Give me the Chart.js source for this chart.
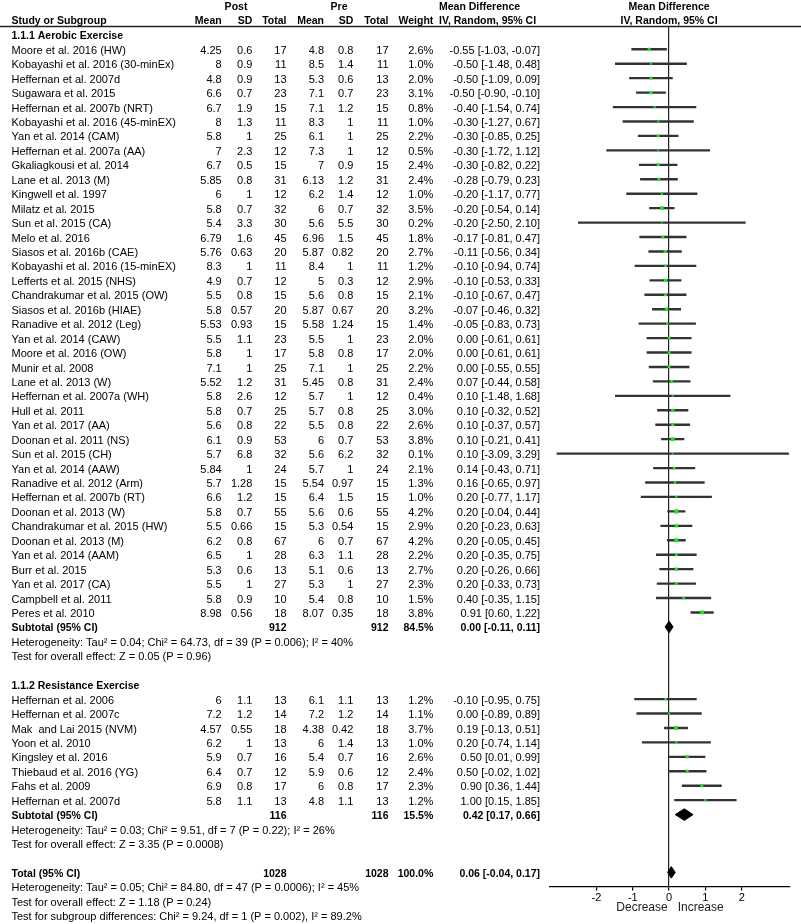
<!DOCTYPE html>
<html><head><meta charset="utf-8">
<script src="https://cdn.jsdelivr.net/npm/chart.js@4.4.0/dist/chart.umd.min.js"></script>
<style>html,body{margin:0;padding:0;background:#fff}canvas{display:block}</style>
</head><body>
<canvas id="c" width="801" height="924"></canvas>
<script>
// ---------- DATA ----------
const studies = [
 'Moore et al. 2016 (HW)','Kobayashi et al. 2016 (30-minEx)','Heffernan et al. 2007d','Sugawara et al. 2015',
 'Heffernan et al. 2007b (NRT)','Kobayashi et al. 2016 (45-minEX)','Yan et al. 2014 (CAM)','Heffernan et al. 2007a (AA)',
 'Gkaliagkousi et al. 2014','Lane et al. 2013 (M)','Kingwell et al. 1997','Milatz et al. 2015','Sun et al. 2015 (CA)',
 'Melo et al. 2016','Siasos et al. 2016b (CAE)','Kobayashi et al. 2016 (15-minEX)','Lefferts et al. 2015 (NHS)',
 'Chandrakumar et al. 2015 (OW)','Siasos et al. 2016b (HIAE)','Ranadive et al. 2012 (Leg)','Yan et al. 2014 (CAW)',
 'Moore et al. 2016 (OW)','Munir et al. 2008','Lane et al. 2013 (W)','Heffernan et al. 2007a (WH)','Hull et al. 2011',
 'Yan et al. 2017 (AA)','Doonan et al. 2011 (NS)','Sun et al. 2015 (CH)','Yan et al. 2014 (AAW)','Ranadive et al. 2012 (Arm)',
 'Heffernan et al. 2007b (RT)','Doonan et al. 2013 (W)','Chandrakumar et al. 2015 (HW)','Doonan et al. 2013 (M)',
 'Yan et al. 2014 (AAM)','Burr et al. 2015','Yan et al. 2017 (CA)','Campbell et al. 2011','Peres et al. 2010',
 'Heffernan et al. 2006','Heffernan et al. 2007c','Mak  and Lai 2015 (NVM)','Yoon et al. 2010','Kingsley et al. 2016',
 'Thiebaud et al. 2016 (YG)','Fahs et al. 2009','Heffernan et al. 2007d'
];
const studyGroup = [0,0,0,0,0,0,0,0,0,0,0,0,0,0,0,0,0,0,0,0,0,0,0,0,0,0,0,0,0,0,0,0,0,0,0,0,0,0,0,0, 1,1,1,1,1,1,1,1];
const postMean = [4.25,8,4.8,6.6,6.7,8,5.8,7,6.7,5.85,6,5.8,5.4,6.79,5.76,8.3,4.9,5.5,5.8,5.53,5.5,5.8,7.1,5.52,5.8,5.8,5.6,6.1,5.7,5.84,5.7,6.6,5.8,5.5,6.2,6.5,5.3,5.5,5.8,8.98, 6,7.2,4.57,6.2,5.9,6.4,6.9,5.8];
const postSD   = [0.6,0.9,0.9,0.7,1.9,1.3,1,2.3,0.5,0.8,1,0.7,3.3,1.6,0.63,1,0.7,0.8,0.57,0.93,1.1,1,1,1.2,2.6,0.7,0.8,0.9,6.8,1,1.28,1.2,0.7,0.66,0.8,1,0.6,1,0.9,0.56, 1.1,1.2,0.55,1,0.7,0.7,0.8,1.1];
const postTotal= [17,11,13,23,15,11,25,12,15,31,12,32,30,45,20,11,12,15,20,15,23,17,25,31,12,25,22,53,32,24,15,15,55,15,67,28,13,27,10,18, 13,14,18,13,16,12,17,13];
const preMean  = [4.8,8.5,5.3,7.1,7.1,8.3,6.1,7.3,7,6.13,6.2,6,5.6,6.96,5.87,8.4,5,5.6,5.87,5.58,5.5,5.8,7.1,5.45,5.7,5.7,5.5,6,5.6,5.7,5.54,6.4,5.6,5.3,6,6.3,5.1,5.3,5.4,8.07, 6.1,7.2,4.38,6,5.4,5.9,6,4.8];
const preSD    = [0.8,1.4,0.6,0.7,1.2,1,1,1,0.9,1.2,1.4,0.7,5.5,1.5,0.82,1,0.3,0.8,0.67,1.24,1,0.8,1,0.8,1,0.8,0.8,0.7,6.2,1,0.97,1.5,0.6,0.54,0.7,1.1,0.6,1,0.8,0.35, 1.1,1.2,0.42,1.4,0.7,0.6,0.8,1.1];
const preTotal = [17,11,13,23,15,11,25,12,15,31,12,32,30,45,20,11,12,15,20,15,23,17,25,31,12,25,22,53,32,24,15,15,55,15,67,28,13,27,10,18, 13,14,18,13,16,12,17,13];
const weights  = [2.6,1.0,2.0,3.1,0.8,1.0,2.2,0.5,2.4,2.4,1.0,3.5,0.2,1.8,2.7,1.2,2.9,2.1,3.2,1.4,2.0,2.0,2.2,2.4,0.4,3.0,2.6,3.8,0.1,2.1,1.3,1.0,4.2,2.9,4.2,2.2,2.7,2.3,1.5,3.8, 1.2,1.1,3.7,1.0,2.6,2.4,2.3,1.2];
const meanDiff = [-0.55,-0.50,-0.50,-0.50,-0.40,-0.30,-0.30,-0.30,-0.30,-0.28,-0.20,-0.20,-0.20,-0.17,-0.11,-0.10,-0.10,-0.10,-0.07,-0.05,0.00,0.00,0.00,0.07,0.10,0.10,0.10,0.10,0.10,0.14,0.16,0.20,0.20,0.20,0.20,0.20,0.20,0.20,0.40,0.91, -0.10,0.00,0.19,0.20,0.50,0.50,0.90,1.00];
const ciLow    = [-1.03,-1.48,-1.09,-0.90,-1.54,-1.27,-0.85,-1.72,-0.82,-0.79,-1.17,-0.54,-2.50,-0.81,-0.56,-0.94,-0.53,-0.67,-0.46,-0.83,-0.61,-0.61,-0.55,-0.44,-1.48,-0.32,-0.37,-0.21,-3.09,-0.43,-0.65,-0.77,-0.04,-0.23,-0.05,-0.35,-0.26,-0.33,-0.35,0.60, -0.95,-0.89,-0.13,-0.74,0.01,-0.02,0.36,0.15];
const ciHigh   = [-0.07,0.48,0.09,-0.10,0.74,0.67,0.25,1.12,0.22,0.23,0.77,0.14,2.10,0.47,0.34,0.74,0.33,0.47,0.32,0.73,0.61,0.61,0.55,0.58,1.68,0.52,0.57,0.41,3.29,0.71,0.97,1.17,0.44,0.63,0.45,0.75,0.66,0.73,1.15,1.22, 0.75,0.89,0.51,1.14,0.99,1.02,1.44,1.85];

const groupTitles = ['1.1.1 Aerobic Exercise','1.1.2 Resistance Exercise'];
const summaryLabels = ['Subtotal (95% CI)','Subtotal (95% CI)','Total (95% CI)'];
const summaryTotal  = [912,116,1028];
const summaryWeight = [84.5,15.5,100.0];
const summaryMD     = [0.00,0.42,0.06];
const summaryLow    = [-0.11,0.17,-0.04];
const summaryHigh   = [0.11,0.66,0.17];
const summaryStats = [
 ['Heterogeneity: Tau\u00B2 = 0.04; Chi\u00B2 = 64.73, df = 39 (P = 0.006); I\u00B2 = 40%','Test for overall effect: Z = 0.05 (P = 0.96)'],
 ['Heterogeneity: Tau\u00B2 = 0.03; Chi\u00B2 = 9.51, df = 7 (P = 0.22); I\u00B2 = 26%','Test for overall effect: Z = 3.35 (P = 0.0008)'],
 ['Heterogeneity: Tau\u00B2 = 0.05; Chi\u00B2 = 84.80, df = 47 (P = 0.0006); I\u00B2 = 45%','Test for overall effect: Z = 1.18 (P = 0.24)','Test for subgroup differences: Chi\u00B2 = 9.24, df = 1 (P = 0.002), I\u00B2 = 89.2%']
];
const xTicks = [-2,-1,0,1,2];
const axisLabel = 'Decrease   Increase';

// ---------- ROW LAYOUT ----------
const studyRow = [], titleRow = [], summaryRow = [], statRow = [];
(function(){
  let r = -1;
  for (let g = 0; g < 2; g++) {
    titleRow[g] = r++;
    studies.forEach((s,k)=>{ if (studyGroup[k]===g) studyRow[k] = r++; });
    summaryRow[g] = r++;
    statRow[g] = summaryStats[g].map(()=>r++);
    r++;
  }
  summaryRow[2] = r++;
  statRow[2] = summaryStats[2].map(()=>r++);
})();

const ROW0 = 49.3, ROWH = 14.44, AREA_TOP = 27, AREA_BOTTOM = 886.5, TEXT_DY = 1.5, HEAD_DY = -0.5;
const FONT = '"Liberation Sans", Arial, sans-serif';
const COL = {study:11.5, postMean:221.7, postSD:252.3, postN:286.5, preMean:324, preSD:353.3, preN:388.5, weight:433.3, ci:540, postHdr:236, preHdr:339, mdHdr:439};
const DIAMOND_H = 0.4;

const f2 = v => v.toFixed(2);
const ciText = (m,l,h) => f2(m)+' ['+f2(l)+', '+f2(h)+']';

function txt(ctx, s, x, y, align, bold){
  ctx.font = bold ? 'bold 10.5px ' + FONT : '11px ' + FONT;
  ctx.textAlign = align; ctx.textBaseline = 'middle'; ctx.fillStyle = '#000';
  ctx.fillText(s, x, y);
}

const tablePlugin = {
  id: 'table',
  beforeDraw(chart){
    const c = chart.ctx; c.save(); c.fillStyle = '#fff'; c.fillRect(0,0,chart.width,chart.height); c.restore();
  },
  afterDraw(chart){
    const ctx = chart.ctx, y = chart.scales.y, x = chart.scales.x;
    const Y = r => y.getPixelForValue(r) + TEXT_DY;
    const H = r => y.getPixelForValue(r) + TEXT_DY + HEAD_DY;
    const zx = x.getPixelForValue(0);
    ctx.save();
    // headers
    txt(ctx,'Post',COL.postHdr,H(-3),'center',true);
    txt(ctx,'Pre',COL.preHdr,H(-3),'center',true);
    txt(ctx,'Mean Difference',COL.mdHdr,H(-3),'left',true);
    txt(ctx,'Mean Difference',zx,H(-3),'center',true);
    txt(ctx,'Study or Subgroup',COL.study,H(-2),'left',true);
    [['Mean',COL.postMean],['SD',COL.postSD],['Total',COL.postN],['Mean',COL.preMean],['SD',COL.preSD],['Total',COL.preN],['Weight',COL.weight]]
      .forEach(([s,px])=>txt(ctx,s,px,H(-2),'right',true));
    txt(ctx,'IV, Random, 95% CI',COL.mdHdr,H(-2),'left',true);
    txt(ctx,'IV, Random, 95% CI',zx,H(-2),'center',true);
    ctx.strokeStyle = '#222'; ctx.lineWidth = 1.5;
    ctx.beginPath(); ctx.moveTo(0,chart.chartArea.top-0.5); ctx.lineTo(chart.width,chart.chartArea.top-0.5); ctx.stroke();
    // groups
    groupTitles.forEach((t,g)=>txt(ctx,t,COL.study,Y(titleRow[g]),'left',true));
    studies.forEach((s,k)=>{
      const yy = Y(studyRow[k]);
      txt(ctx,s,COL.study,yy,'left',false);
      txt(ctx,String(postMean[k]),COL.postMean,yy,'right',false);
      txt(ctx,String(postSD[k]),COL.postSD,yy,'right',false);
      txt(ctx,String(postTotal[k]),COL.postN,yy,'right',false);
      txt(ctx,String(preMean[k]),COL.preMean,yy,'right',false);
      txt(ctx,String(preSD[k]),COL.preSD,yy,'right',false);
      txt(ctx,String(preTotal[k]),COL.preN,yy,'right',false);
      txt(ctx,weights[k].toFixed(1)+'%',COL.weight,yy,'right',false);
      txt(ctx,ciText(meanDiff[k],ciLow[k],ciHigh[k]),COL.ci,yy,'right',false);
    });
    summaryLabels.forEach((s,g)=>{
      const yy = Y(summaryRow[g]);
      txt(ctx,s,COL.study,yy,'left',true);
      txt(ctx,String(summaryTotal[g]),COL.postN,yy,'right',true);
      txt(ctx,String(summaryTotal[g]),COL.preN,yy,'right',true);
      txt(ctx,summaryWeight[g].toFixed(1)+'%',COL.weight,yy,'right',true);
      txt(ctx,ciText(summaryMD[g],summaryLow[g],summaryHigh[g]),COL.ci,yy,'right',true);
      summaryStats[g].forEach((line,j)=>txt(ctx,line,COL.study,Y(statRow[g][j]),'left',false));
    });
    ctx.restore();
  }
};

const datasets = [
  { type:'bar', indexAxis:'y', order:3,
    data: studies.map((s,k)=>({x:[ciLow[k],ciHigh[k]], y:studyRow[k]})),
    backgroundColor:'#333333', borderWidth:0, barThickness:1.7, grouped:false },
  { type:'scatter', order:1,
    data: studies.map((s,k)=>({x:meanDiff[k], y:studyRow[k]})),
    pointStyle:'rect', pointRadius: weights.map(w=>1.1+0.42*w), pointBorderWidth:0,
    backgroundColor:'#1ee61e', borderColor:'#1ee61e' }
];
summaryLabels.forEach((s,g)=>{
  const r = summaryRow[g];
  datasets.push({ type:'line', order:0,
    data:[{x:summaryLow[g],y:r},{x:summaryMD[g],y:r-DIAMOND_H},{x:summaryHigh[g],y:r},{x:summaryMD[g],y:r+DIAMOND_H},{x:summaryLow[g],y:r}],
    borderColor:'#000', backgroundColor:'#000', borderWidth:1, pointRadius:0, fill:'shape', tension:0 });
});

new Chart(document.getElementById('c'), {
  type:'scatter',
  data:{ datasets },
  options:{
    responsive:false, animation:false, devicePixelRatio:1,
    layout:{ padding:{ left:550, right:11, top:AREA_TOP, bottom:0 } },
    plugins:{ legend:{display:false}, tooltip:{enabled:false} },
    scales:{
      x:{ type:'linear', min:-3.28, max:3.33, position:'bottom',
        afterBuildTicks: s => { s.ticks = xTicks.map(v=>({value:v})); },
        afterFit: s => { s.height = 924 - AREA_BOTTOM; },
        grid:{ drawOnChartArea:true, drawTicks:true, tickLength:4, lineWidth:1.2,
               color: c => (c.tick && c.tick.value === 0) ? '#222' : 'rgba(0,0,0,0)', tickColor:'#000', offset:false },
        border:{ display:true, color:'#000', width:1.2 },
        ticks:{ color:'#000', padding:1, autoSkip:false, maxRotation:0, font:{family:FONT, size:11},
                callback: v => String(v) },
        title:{ display:true, text:axisLabel, color:'#222', font:{family:FONT, size:12}, padding:{top:0,bottom:9} }
      },
      y:{ type:'linear', display:false, reverse:true, offset:false, grid:{offset:false},
          min:(AREA_TOP-ROW0)/ROWH, max:(AREA_BOTTOM-ROW0)/ROWH }
    }
  },
  plugins:[tablePlugin]
});
</script>
</body></html>
